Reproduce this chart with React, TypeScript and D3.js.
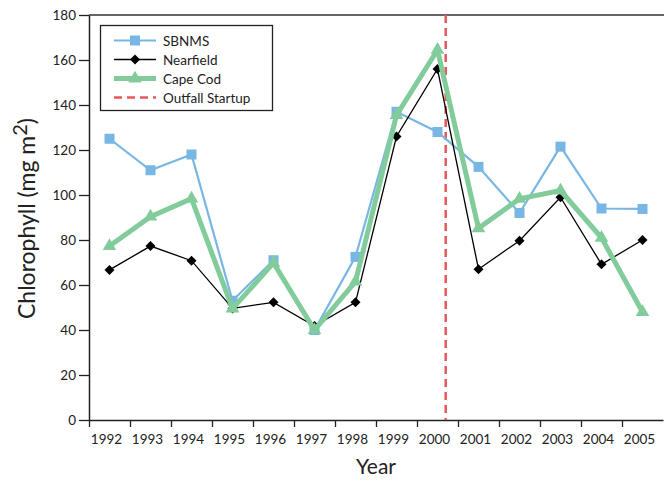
import { useEffect, useRef } from 'react';
import * as d3 from 'd3';

const years = [1992, 1993, 1994, 1995, 1996, 1997, 1998, 1999, 2000, 2001, 2002, 2003, 2004, 2005];
const sbnms = [125, 111, 118, 53, 71, 40, 72.5, 137, 128, 112.5, 92, 121.5, 94, 93.8];
const nearfield = [66.7, 77.3, 70.8, 49.6, 52.3, 41.8, 52.3, 126, 156, 67, 79.7, 99, 69.2, 80];
const capeCod = [77.3, 90.4, 98.4, 49.5, 69.8, 40, 61.5, 135.5, 164.5, 85.2, 98.3, 102, 81, 48];
const yTicks = [0, 20, 40, 60, 80, 100, 120, 140, 160, 180];
const outfallStartup = 2000.2;

const FONT = 'Lato, "Open Sans", sans-serif';

const App = () => {
    const svgRef = useRef<SVGSVGElement>(null);

    useEffect(() => {
        const svg = d3.select(svgRef.current);
        svg.selectAll('*').remove();

        const left = 89, right = 663, top = 15, bottom = 420;

        const x = d3.scaleLinear().domain([1991.5, 2005.5]).range([left, right]);
        const y = d3.scaleLinear().domain([0, 180]).range([bottom, top]);

        // top frame line
        svg.append('line')
            .attr('x1', left).attr('x2', 664)
            .attr('y1', top).attr('y2', top)
            .attr('stroke', '#333').attr('stroke-width', 1.5);

        // y axis
        const yAxis = svg.append('g')
            .attr('transform', `translate(${left},0)`)
            .call(d3.axisLeft(y).tickValues(yTicks).tickSize(10).tickPadding(3).tickSizeOuter(0));
        yAxis.select('.domain').attr('stroke', '#222').attr('stroke-width', 1.5);
        yAxis.selectAll('line').attr('stroke', '#222').attr('stroke-width', 1.3);
        yAxis.selectAll('text')
            .style('font-family', FONT).style('font-size', '13.5px').attr('fill', '#222');

        // x axis: ticks at band edges, labels at band centres
        const xAxis = svg.append('g')
            .attr('transform', `translate(0,${bottom})`)
            .call(d3.axisBottom(x).tickValues(d3.range(1991.5, 2005.5, 1)).tickSize(7).tickFormat(() => '').tickSizeOuter(0));
        xAxis.select('.domain').attr('stroke', '#222').attr('stroke-width', 1.5);
        xAxis.selectAll('line').attr('stroke', '#222').attr('stroke-width', 1.3);

        svg.append('g').selectAll('text')
            .data(years)
            .join('text')
            .attr('x', d => x(d) - 3)
            .attr('y', bottom + 24)
            .attr('text-anchor', 'middle')
            .style('font-family', FONT).style('font-size', '13.5px')
            .attr('fill', '#222')
            .text(d => d);

        // axis titles
        svg.append('text')
            .attr('x', 376).attr('y', 474)
            .attr('text-anchor', 'middle')
            .style('font-family', FONT).style('font-size', '21px')
            .attr('fill', '#222')
            .text('Year');

        const yt = svg.append('text')
            .attr('transform', `translate(35,${(top + bottom) / 2 + 1}) rotate(-90)`)
            .attr('text-anchor', 'middle')
            .style('font-family', FONT).style('font-size', '23px')
            .attr('fill', '#222');
        yt.append('tspan').text('Chlorophyll (mg m');
        yt.append('tspan').attr('dy', -8).style('font-size', '20px').text('2');
        yt.append('tspan').attr('dy', 8).text(')');

        // outfall startup line
        svg.append('line')
            .attr('x1', x(outfallStartup)).attr('x2', x(outfallStartup))
            .attr('y1', top).attr('y2', bottom)
            .attr('stroke', '#e8575a').attr('stroke-width', 2.5)
            .attr('stroke-dasharray', '8,5');

        const line = d3.line<number>()
            .x((_, i) => x(years[i]))
            .y(d => y(d));

        const blue = '#78b6e4';
        const green = '#82cc9c';

        // SBNMS
        svg.append('path').datum(sbnms)
            .attr('fill', 'none').attr('stroke', blue).attr('stroke-width', 2.2)
            .attr('d', line);
        svg.append('g').selectAll('path')
            .data(sbnms).join('path')
            .attr('d', d3.symbol(d3.symbolSquare, 100)())
            .attr('transform', (d, i) => `translate(${x(years[i])},${y(d)})`)
            .attr('fill', blue);

        // Nearfield
        svg.append('path').datum(nearfield)
            .attr('fill', 'none').attr('stroke', '#000').attr('stroke-width', 1.3)
            .attr('d', line);
        svg.append('g').selectAll('path')
            .data(nearfield).join('path')
            .attr('d', d3.symbol(d3.symbolSquare, 50)())
            .attr('transform', (d, i) => `translate(${x(years[i])},${y(d)}) rotate(45)`)
            .attr('fill', '#000');

        // Cape Cod
        svg.append('path').datum(capeCod)
            .attr('fill', 'none').attr('stroke', green).attr('stroke-width', 5)
            .attr('stroke-linejoin', 'miter')
            .attr('d', line);
        svg.append('g').selectAll('path')
            .data(capeCod).join('path')
            .attr('d', d3.symbol(d3.symbolTriangle, 80)())
            .attr('transform', (d, i) => `translate(${x(years[i])},${y(d)})`)
            .attr('fill', green);

        // legend
        const lg = svg.append('g');
        lg.append('rect')
            .attr('x', 100.5).attr('y', 25.5).attr('width', 172).attr('height', 85)
            .attr('fill', '#fff').attr('stroke', '#222').attr('stroke-width', 1.3);
        const items = [
            { name: 'SBNMS', color: blue, width: 2.2, symbol: d3.symbolSquare, size: 100, rot: 0, dash: null },
            { name: 'Nearfield', color: '#000', width: 1.3, symbol: d3.symbolSquare, size: 50, rot: 45, dash: null },
            { name: 'Cape Cod', color: green, width: 5, symbol: d3.symbolTriangle, size: 80, rot: 0, dash: null },
            { name: 'Outfall Startup', color: '#e8575a', width: 2.5, symbol: null, size: 0, rot: 0, dash: '8,5' },
        ];
        items.forEach((it, i) => {
            const yy = 40.5 + i * 19;
            lg.append('line')
                .attr('x1', 114).attr('x2', 156).attr('y1', yy).attr('y2', yy)
                .attr('stroke', it.color).attr('stroke-width', it.width)
                .attr('stroke-dasharray', it.dash);
            if (it.symbol) {
                lg.append('path')
                    .attr('d', d3.symbol(it.symbol, it.size)())
                    .attr('transform', `translate(135,${yy}) rotate(${it.rot})`)
                    .attr('fill', it.color);
            }
            lg.append('text')
                .attr('x', 163).attr('y', yy + 5)
                .style('font-family', FONT).style('font-size', '13.5px')
                .attr('fill', '#222')
                .text(it.name);
        });
    }, []);

    return <svg ref={svgRef} width={664} height={481} style={{ position: 'absolute', left: 0, top: 0 }}></svg>;
};

export default App;
